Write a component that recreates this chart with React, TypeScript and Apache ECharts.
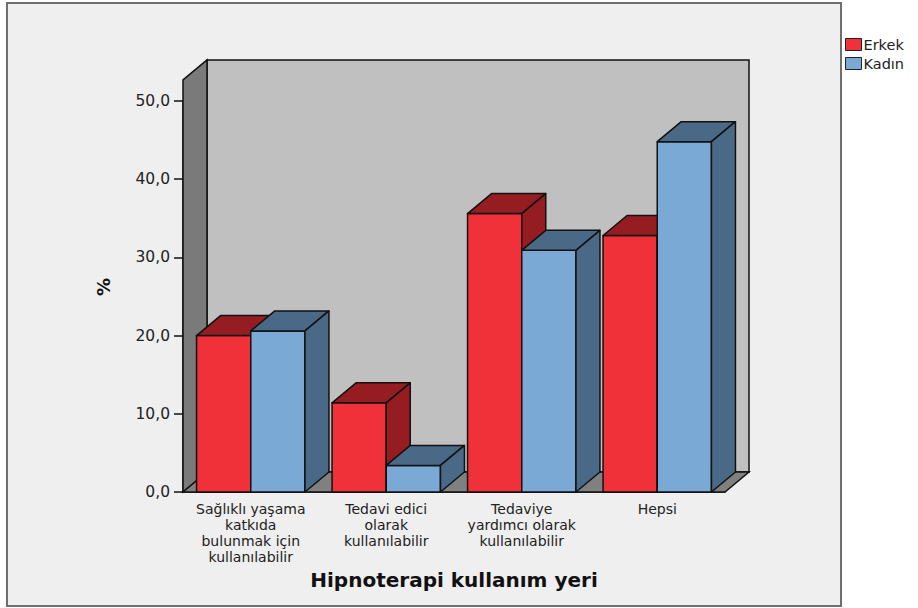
import React, { useEffect, useRef } from "react";
import * as echarts from "echarts";

const categories = [
  "Sağlıklı yaşama\nkatkıda\nbulunmak için\nkullanılabilir",
  "Tedavi edici\nolarak\nkullanılabilir",
  "Tedaviye\nyardımcı olarak\nkullanılabilir",
  "Hepsi",
];
const seriesNames = ["Erkek", "Kadın"];
const erkekValues = [20.0, 11.4, 35.6, 32.8];
const kadinValues = [20.6, 3.4, 30.9, 44.8];
const yTicks = { min: 0, max: 50, interval: 10 };
const wallTop = 52.7;

const FONT = "DejaVu Sans";
const DX = 24;
const DY = -20;

const frontColors = ["#f0313a", "#7ba9d6"];
const darkColors = ["#951d22", "#4a6987"];

export default function App() {
  const ref = useRef<HTMLDivElement>(null);
  useEffect(() => {
    if (!ref.current) return;
    const chart = echarts.init(ref.current, undefined, { renderer: "svg" });

    const wallSeries = {
      type: "custom",
      name: "walls",
      silent: true,
      z: 1,
      data: [[0, 0]],
      renderItem: (params: any, api: any) => {
        const bw = api.size([1, 0])[0];
        const p0 = api.coord([0, 0]);
        const pEnd = api.coord([categories.length - 1, 0]);
        const x0 = p0[0] - bw / 2;
        const x1 = pEnd[0] + bw / 2;
        const y0 = p0[1];
        const yt = api.coord([0, wallTop])[1];
        const stroke = { stroke: "#111", lineWidth: 1.5 };
        return {
          type: "group",
          children: [
            {
              type: "rect",
              shape: { x: x0 + DX, y: yt + DY, width: x1 - x0, height: y0 - yt },
              style: { fill: "#c0c0c0", ...stroke },
            },
            {
              type: "polygon",
              shape: { points: [[x0, y0], [x0, yt], [x0 + DX, yt + DY], [x0 + DX, y0 + DY]] },
              style: { fill: "#7a7a7a", ...stroke },
            },
            {
              type: "polygon",
              shape: { points: [[x0, y0], [x1, y0], [x1 + DX, y0 + DY], [x0 + DX, y0 + DY]] },
              style: { fill: "#808080", ...stroke },
            },
          ],
        };
      },
    };

    const barSeries = (idx: number, values: number[]) => ({
      type: "custom",
      name: seriesNames[idx],
      z: 3,
      itemStyle: { color: frontColors[idx], borderColor: "#222", borderWidth: 1 },
      data: values.map((v, i) => [i, v]),
      encode: { x: 0, y: 1 },
      renderItem: (params: any, api: any) => {
        const c = api.value(0);
        const v = api.value(1);
        const bw = api.size([1, 0])[0];
        const w = bw * 0.4;
        const top = api.coord([c, v]);
        const base = api.coord([c, 0]);
        const xl = idx === 0 ? top[0] - w : top[0];
        const xr = xl + w;
        const yt = top[1];
        const yb = base[1];
        const stroke = { stroke: "#111", lineWidth: 1.5, lineJoin: "round" };
        return {
          type: "group",
          children: [
            {
              type: "rect",
              shape: { x: xl, y: yt, width: w, height: yb - yt },
              style: { fill: frontColors[idx], ...stroke },
            },
            {
              type: "polygon",
              shape: { points: [[xl, yt], [xr, yt], [xr + DX, yt + DY], [xl + DX, yt + DY]] },
              style: { fill: darkColors[idx], ...stroke },
            },
            {
              type: "polygon",
              shape: { points: [[xr, yt], [xr, yb], [xr + DX, yb + DY], [xr + DX, yt + DY]] },
              style: { fill: darkColors[idx], ...stroke },
            },
          ],
        };
      },
    });

    chart.setOption({
      animation: false,
      backgroundColor: "#ffffff",
      textStyle: { fontFamily: FONT },
      graphic: [
        {
          type: "rect",
          z: -10,
          silent: true,
          shape: { x: 7, y: 3, width: 834, height: 603 },
          style: { fill: "#efefef", stroke: "#6e6e6e", lineWidth: 2 },
        },
        {
          type: "text",
          x: 103,
          y: 287,
          rotation: Math.PI / 2,
          style: {
            text: "%",
            align: "center",
            verticalAlign: "middle",
            font: `bold 18px "${FONT}"`,
            fill: "#111",
          },
        },
      ],
      legend: {
        data: seriesNames.map((n, i) => ({
          name: n,
          icon: "rect",
          itemStyle: { color: frontColors[i], borderColor: "#222", borderWidth: 1 },
        })),
        orient: "vertical",
        left: 845,
        top: 37,
        itemWidth: 16,
        itemHeight: 12,
        itemGap: 4,
        padding: 0,
        selectedMode: false,
        textStyle: { fontFamily: FONT, fontSize: 14.5, color: "#222", padding: [0, 0, 0, -3] },
      },
      grid: { left: 183, right: 193, top: 101, bottom: 116, containLabel: false },
      xAxis: {
        type: "category",
        data: categories,
        name: "Hipnoterapi kullanım yeri",
        nameLocation: "middle",
        nameGap: 72,
        nameTextStyle: { fontFamily: FONT, fontSize: 20, fontWeight: "bold", color: "#111" },
        axisLine: { lineStyle: { color: "#111", width: 1.5 } },
        axisTick: { alignWithLabel: true, length: 8, lineStyle: { color: "#111", width: 1.5 } },
        axisLabel: {
          interval: 0,
          margin: 9,
          fontFamily: FONT,
          fontSize: 14,
          lineHeight: 16,
          color: "#222",
          align: "center",
        },
        splitLine: { show: false },
      },
      yAxis: {
        type: "value",
        min: yTicks.min,
        max: yTicks.max,
        interval: yTicks.interval,
        axisLine: { show: true, lineStyle: { color: "#111", width: 1.5 } },
        axisTick: { show: true, length: 9, lineStyle: { color: "#111", width: 1.5 } },
        axisLabel: {
          margin: 13,
          fontFamily: FONT,
          fontSize: 15.5,
          color: "#222",
          formatter: (v: number) => v.toFixed(1).replace(".", ","),
        },
        splitLine: { show: false },
      },
      series: [wallSeries, barSeries(0, erkekValues), barSeries(1, kadinValues)],
    });
    return () => chart.dispose();
  }, []);
  return (
    <div
      ref={ref}
      style={{ position: "fixed", left: 0, top: 0, width: 918, height: 608 }}
    />
  );
}
